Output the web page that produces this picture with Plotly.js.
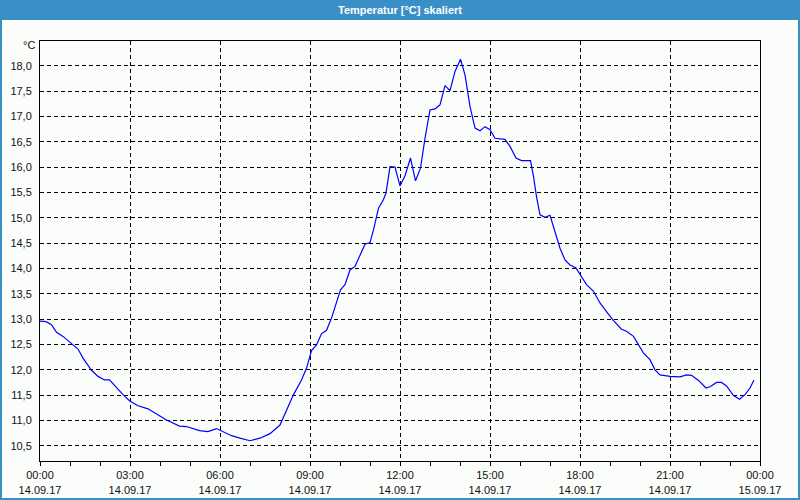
<!DOCTYPE html>
<html>
<head>
<meta charset="utf-8">
<script src="https://cdn.plot.ly/plotly-3.0.1.min.js"></script>
<style>html,body{margin:0;padding:0;background:#fbfdfa;}#chart{width:800px;height:500px;}</style>
</head>
<body>
<div id="chart"></div>
<script>
// ---- data ----
const day = "2017-09-14";
const times = ["00:00","00:12","00:23","00:33","00:46","00:59","01:16","01:26","01:43","01:56",
"02:09","02:19","02:33","02:46","02:59","03:16","03:36","03:53","04:13","04:39",
"04:53","05:19","05:36","05:53","06:06","06:23","06:40","07:00","07:20","07:40",
"08:00","08:13","08:27","08:43","08:53","09:03","09:13","09:23","09:33","09:43",
"09:53","10:01","10:10","10:20","10:30","10:40","10:50","11:00","11:07","11:17",
"11:27","11:32","11:40","11:50","12:00","12:10","12:21","12:31","12:41","12:50",
"13:00","13:10","13:20","13:30","13:40","13:50","14:01","14:10","14:20","14:30",
"14:40","14:50","15:00","15:10","15:30","15:40","15:52","16:03","16:21","16:27",
"16:33","16:40","16:50","17:00","17:10","17:20","17:30","17:40","17:52","18:03",
"18:13","18:27","18:40","18:53","19:07","19:23","19:33","19:47","19:57","20:07",
"20:20","20:30","20:40","21:00","21:20","21:33","21:43","21:57","22:12","22:21",
"22:33","22:43","22:53","23:07","23:19","23:30","23:40","23:48"];
const temps = [12.96,12.95,12.89,12.74,12.66,12.55,12.41,12.23,11.99,11.87,
11.80,11.80,11.64,11.51,11.39,11.29,11.23,11.13,11.01,10.89,
10.88,10.80,10.78,10.84,10.78,10.70,10.65,10.60,10.65,10.74,
10.91,11.21,11.51,11.80,12.03,12.38,12.49,12.71,12.78,13.02,
13.32,13.58,13.68,13.97,14.04,14.27,14.48,14.51,14.76,15.19,
15.36,15.49,16.01,16.00,15.63,15.83,16.18,15.73,15.98,16.57,
17.13,17.15,17.23,17.61,17.51,17.89,18.13,17.82,17.20,16.77,
16.72,16.80,16.74,16.57,16.55,16.41,16.18,16.13,16.13,15.82,
15.42,15.06,15.01,15.05,14.73,14.40,14.17,14.07,14.01,13.84,
13.68,13.55,13.32,13.15,12.97,12.80,12.76,12.66,12.49,12.33,
12.20,12.00,11.90,11.87,11.86,11.90,11.89,11.79,11.64,11.67,
11.75,11.75,11.68,11.49,11.42,11.51,11.64,11.80];
const xTickTimes = ["2017-09-14 00:00","2017-09-14 03:00","2017-09-14 06:00","2017-09-14 09:00",
"2017-09-14 12:00","2017-09-14 15:00","2017-09-14 18:00","2017-09-14 21:00","2017-09-15 00:00"];
const xTickLabels = ["00:00<br>14.09.17","03:00<br>14.09.17","06:00<br>14.09.17","09:00<br>14.09.17",
"12:00<br>14.09.17","15:00<br>14.09.17","18:00<br>14.09.17","21:00<br>14.09.17","00:00<br>15.09.17"];
const yTickVals = [10.5,11.0,11.5,12.0,12.5,13.0,13.5,14.0,14.5,15.0,15.5,16.0,16.5,17.0,17.5,18.0];
const yTickLabels = yTickVals.map(v => v.toFixed(1).replace(".", ","));
const chartTitle = "Temperatur [°C] skaliert";
const unitLabel = "°C";

// ---- layout helpers ----
const W = 800, H = 500, L = 40, R = 40, T = 41, B = 39;
const px2x = p => (p - L) / (W - L - R);
const py2y = p => (H - B - p) / (H - T - B);
const BLUE = "#3b8fc7";
const BG = "#fbfdfa";
const FONT = "Liberation Sans, DejaVu Sans, sans-serif";

const trace = {
  x: times.map(t => day + " " + t),
  y: temps,
  type: "scatter",
  mode: "lines",
  line: {color: "#0000ff", width: 1.2},
  hoverinfo: "x+y"
};

const layout = {
  width: W, height: H,
  margin: {l: L, r: R, t: T, b: B, pad: 0},
  paper_bgcolor: BG,
  plot_bgcolor: BG,
  showlegend: false,
  font: {family: FONT, size: 11, color: "#111"},
  title: {
    text: "<b>" + chartTitle + "</b>",
    font: {family: FONT, size: 11, color: "#ffffff"},
    xref: "paper", x: 0.5, xanchor: "center",
    yref: "container", y: 1 - 10 / H, yanchor: "middle"
  },
  xaxis: {
    type: "date",
    range: ["2017-09-14 00:00", "2017-09-15 00:00"],
    tickmode: "array",
    tickvals: xTickTimes,
    ticktext: xTickLabels,
    ticks: "outside", ticklen: 4, tickcolor: "#000", tickwidth: 1,
    showline: true, linecolor: "#000", linewidth: 1, mirror: true,
    showgrid: true, gridcolor: "#000", gridwidth: 1, griddash: "4px,3px",
    zeroline: false,
    tickfont: {family: FONT, size: 11, color: "#111"},
    minor: {dtick: 3600000, ticks: "outside", ticklen: 4, tickcolor: "#000", showgrid: false},
    fixedrange: true
  },
  yaxis: {
    range: [10.2, 18.49],
    tickmode: "array",
    tickvals: yTickVals,
    ticktext: yTickLabels,
    ticks: "", ticklabelstandoff: 5,
    showline: true, linecolor: "#000", linewidth: 1, mirror: true,
    showgrid: true, gridcolor: "#000", gridwidth: 1, griddash: "4px,3px",
    zeroline: false,
    tickfont: {family: FONT, size: 11, color: "#111"},
    fixedrange: true
  },
  shapes: [
    {type: "rect", xref: "paper", yref: "paper",
     x0: px2x(0), x1: px2x(W), y0: py2y(20), y1: py2y(0),
     fillcolor: BLUE, line: {width: 0}, layer: "above"},
    {type: "rect", xref: "paper", yref: "paper",
     x0: px2x(1), x1: px2x(W - 1), y0: py2y(H - 1), y1: py2y(1),
     fillcolor: "rgba(0,0,0,0)", line: {color: BLUE, width: 2}, layer: "above"}
  ],
  annotations: [
    {text: unitLabel, xref: "paper", yref: "paper",
     x: px2x(37), xanchor: "right", y: py2y(45), yanchor: "middle",
     showarrow: false, font: {family: FONT, size: 11, color: "#111"}}
  ]
};

Plotly.newPlot("chart", [trace], layout, {displayModeBar: false, staticPlot: true});
</script>
</body>
</html>
